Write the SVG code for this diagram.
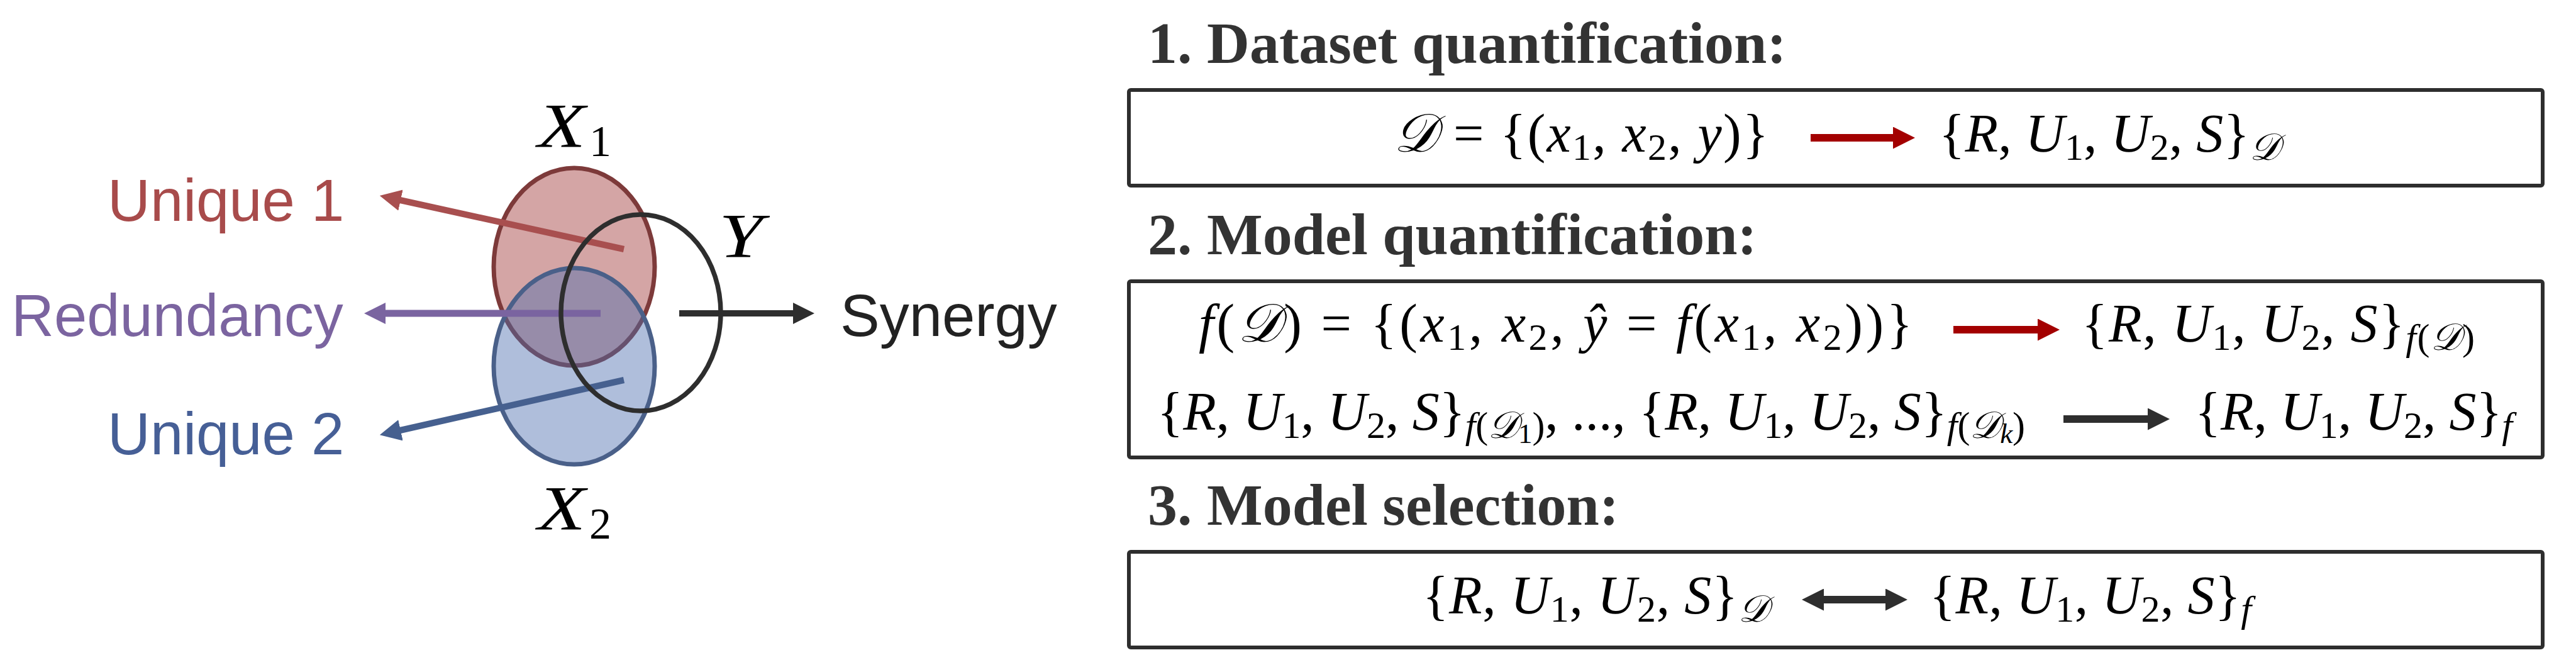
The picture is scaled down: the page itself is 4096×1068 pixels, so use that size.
<svg xmlns="http://www.w3.org/2000/svg" width="4096" height="1068" viewBox="0 0 4096 1068">
<defs>
<style>
.lbl { font-family: "Liberation Sans", Arial, sans-serif; font-size: 94px; }
.var { font-family: "Liberation Serif", "DejaVu Serif", serif; font-style: italic; font-size: 100px; fill: #000; }
.vsub { font-style: normal; font-size: 70px; }
.t { font-family: "Liberation Serif", "Times New Roman", serif; font-weight: bold; font-size: 94px; fill: #333; }
.m { font-family: "Liberation Serif", "DejaVu Serif", serif; font-size: 86px; fill: #000; }
.i { font-style: italic; }
.s { font-size: 60px; }
.ss { font-size: 45px; }
.box { fill: #fff; stroke: #2e2e2e; stroke-width: 6; }
.shaft { fill: none; stroke-linecap: butt; }
</style>
<marker id="hU1" viewBox="0 0 34 34" refX="1" refY="17" markerWidth="34" markerHeight="34" markerUnits="userSpaceOnUse" orient="auto"><path d="M0,0 L34,17 L0,34 Z" fill="#a84f4f"/></marker>
<marker id="hRd" viewBox="0 0 34 34" refX="1" refY="17" markerWidth="34" markerHeight="34" markerUnits="userSpaceOnUse" orient="auto"><path d="M0,0 L34,17 L0,34 Z" fill="#7a64a0"/></marker>
<marker id="hU2" viewBox="0 0 34 34" refX="1" refY="17" markerWidth="34" markerHeight="34" markerUnits="userSpaceOnUse" orient="auto"><path d="M0,0 L34,17 L0,34 Z" fill="#46608f"/></marker>
<marker id="hSy" viewBox="0 0 34 34" refX="1" refY="17" markerWidth="34" markerHeight="34" markerUnits="userSpaceOnUse" orient="auto"><path d="M0,0 L34,17 L0,34 Z" fill="#2e2e2e"/></marker>
<marker id="hCr" viewBox="0 0 35 35" refX="1" refY="17.5" markerWidth="35" markerHeight="35" markerUnits="userSpaceOnUse" orient="auto"><path d="M0,0 L35,17.5 L0,35 Z" fill="#a30000"/></marker>
<marker id="hBk" viewBox="0 0 35 35" refX="1" refY="17.5" markerWidth="35" markerHeight="35" markerUnits="userSpaceOnUse" orient="auto-start-reverse"><path d="M0,0 L35,17.5 L0,35 Z" fill="#2e2e2e"/></marker>
</defs>
<rect width="4096" height="1068" fill="#fff"/>

<g id="node-X1">
<ellipse cx="913" cy="424" rx="128" ry="157" fill="#a94b4b" fill-opacity="0.5" stroke="#7d3a3a" stroke-width="7"/>
<text class="var" x="855" y="233"><tspan textLength="76" lengthAdjust="spacingAndGlyphs">X</tspan><tspan class="vsub" dx="6" dy="15">1</tspan></text>
</g>
<g id="node-X2">
<ellipse cx="913" cy="582" rx="128" ry="156" fill="#4d6fb0" fill-opacity="0.45" stroke="#4a6089" stroke-width="7"/>
<text class="var" x="855" y="841"><tspan textLength="76" lengthAdjust="spacingAndGlyphs">X</tspan><tspan class="vsub" dx="6" dy="15">2</tspan></text>
</g>

<g id="step1">
<text class="t" x="1825" y="100">1. Dataset quantification:</text>
<rect class="box" x="1795" y="143" width="2248" height="152" rx="3"/>
<text class="m" x="2216" y="241" textLength="596" lengthAdjust="spacing"><tspan class="i">𝒟</tspan> = {(<tspan class="i">x</tspan><tspan class="s" dy="13">1</tspan><tspan dy="-13">, </tspan><tspan class="i">x</tspan><tspan class="s" dy="13">2</tspan><tspan dy="-13">, </tspan><tspan class="i">y</tspan>)}</text>
<text class="m" x="3083" y="241" textLength="542" lengthAdjust="spacing">{<tspan class="i">R</tspan>, <tspan class="i">U</tspan><tspan class="s" dy="13">1</tspan><tspan dy="-13">, </tspan><tspan class="i">U</tspan><tspan class="s" dy="13">2</tspan><tspan dy="-13">, </tspan><tspan class="i">S</tspan>}<tspan class="s i" dy="13">𝒟</tspan></text>
</g>

<g id="step2">
<text class="t" x="1825" y="404">2. Model quantification:</text>
<rect class="box" x="1795" y="447" width="2248" height="280" rx="3"/>
<text class="m" x="1906" y="543" textLength="1135" lengthAdjust="spacing"><tspan class="i">f</tspan>(<tspan class="i">𝒟</tspan>) = {(<tspan class="i">x</tspan><tspan class="s" dy="13">1</tspan><tspan dy="-13">, </tspan><tspan class="i">x</tspan><tspan class="s" dy="13">2</tspan><tspan dy="-13">, </tspan><tspan class="i">ŷ</tspan> = <tspan class="i">f</tspan>(<tspan class="i">x</tspan><tspan class="s" dy="13">1</tspan><tspan dy="-13">, </tspan><tspan class="i">x</tspan><tspan class="s" dy="13">2</tspan><tspan dy="-13">))}</tspan></text>
<text class="m" x="3310" y="543" textLength="625" lengthAdjust="spacing">{<tspan class="i">R</tspan>, <tspan class="i">U</tspan><tspan class="s" dy="13">1</tspan><tspan dy="-13">, </tspan><tspan class="i">U</tspan><tspan class="s" dy="13">2</tspan><tspan dy="-13">, </tspan><tspan class="i">S</tspan>}<tspan class="s i" dy="13">f</tspan><tspan class="s">(</tspan><tspan class="s i">𝒟</tspan><tspan class="s">)</tspan></text>
<text class="m" x="1840" y="683" textLength="1380" lengthAdjust="spacing">{<tspan class="i">R</tspan>, <tspan class="i">U</tspan><tspan class="s" dy="13">1</tspan><tspan dy="-13">, </tspan><tspan class="i">U</tspan><tspan class="s" dy="13">2</tspan><tspan dy="-13">, </tspan><tspan class="i">S</tspan>}<tspan class="s i" dy="13">f</tspan><tspan class="s">(</tspan><tspan class="s i">𝒟</tspan><tspan class="ss" dy="8">1</tspan><tspan class="s" dy="-8">)</tspan><tspan dy="-13">, ..., {</tspan><tspan class="i">R</tspan>, <tspan class="i">U</tspan><tspan class="s" dy="13">1</tspan><tspan dy="-13">, </tspan><tspan class="i">U</tspan><tspan class="s" dy="13">2</tspan><tspan dy="-13">, </tspan><tspan class="i">S</tspan>}<tspan class="s i" dy="13">f</tspan><tspan class="s">(</tspan><tspan class="s i">𝒟</tspan><tspan class="ss i" dy="8">k</tspan><tspan class="s" dy="-8">)</tspan></text>
<text class="m" x="3490" y="683" textLength="505" lengthAdjust="spacing">{<tspan class="i">R</tspan>, <tspan class="i">U</tspan><tspan class="s" dy="13">1</tspan><tspan dy="-13">, </tspan><tspan class="i">U</tspan><tspan class="s" dy="13">2</tspan><tspan dy="-13">, </tspan><tspan class="i">S</tspan>}<tspan class="s i" dy="13">f</tspan></text>
</g>

<g id="step3">
<text class="t" x="1825" y="834">3. Model selection:</text>
<rect class="box" x="1795" y="877" width="2248" height="152" rx="3"/>
<text class="m" x="2262" y="975" textLength="550" lengthAdjust="spacing">{<tspan class="i">R</tspan>, <tspan class="i">U</tspan><tspan class="s" dy="13">1</tspan><tspan dy="-13">, </tspan><tspan class="i">U</tspan><tspan class="s" dy="13">2</tspan><tspan dy="-13">, </tspan><tspan class="i">S</tspan>}<tspan class="s i" dy="13">𝒟</tspan></text>
<text class="m" x="3068" y="975" textLength="512" lengthAdjust="spacing">{<tspan class="i">R</tspan>, <tspan class="i">U</tspan><tspan class="s" dy="13">1</tspan><tspan dy="-13">, </tspan><tspan class="i">U</tspan><tspan class="s" dy="13">2</tspan><tspan dy="-13">, </tspan><tspan class="i">S</tspan>}<tspan class="s i" dy="13">f</tspan></text>
</g>

<g id="connectors">
<line class="shaft" x1="992" y1="396" x2="636" y2="318" stroke="#a84f4f" stroke-width="10" marker-end="url(#hU1)"/>
<line class="shaft" x1="955" y1="498" x2="612" y2="498" stroke="#7a64a0" stroke-width="11" marker-end="url(#hRd)"/>
<line class="shaft" x1="992" y1="604" x2="636" y2="684" stroke="#46608f" stroke-width="10" marker-end="url(#hU2)"/>
<line class="shaft" x1="1080" y1="498" x2="1262" y2="498" stroke="#2e2e2e" stroke-width="10" marker-end="url(#hSy)"/>
<line class="shaft" x1="2879" y1="219" x2="3011" y2="219" stroke="#a30000" stroke-width="12" marker-end="url(#hCr)"/>
<line class="shaft" x1="3106" y1="524" x2="3241" y2="524" stroke="#a30000" stroke-width="12" marker-end="url(#hCr)"/>
<line class="shaft" x1="3281" y1="666" x2="3416" y2="666" stroke="#2e2e2e" stroke-width="12" marker-end="url(#hBk)"/>
<line class="shaft" x1="2899" y1="953" x2="2999" y2="953" stroke="#2e2e2e" stroke-width="12" marker-start="url(#hBk)" marker-end="url(#hBk)"/>
</g>

<g id="node-Y">
<ellipse cx="1019" cy="497" rx="127" ry="156" fill="none" stroke="#2e2e2e" stroke-width="7.5"/>
<text class="var" x="1143" y="408" font-size="105"><tspan textLength="70" lengthAdjust="spacingAndGlyphs">Y</tspan></text>
</g>

<g id="label-unique1"><text class="lbl" x="171" y="351" fill="#a84b4b">Unique 1</text></g>
<g id="label-redundancy"><text class="lbl" x="18" y="534" fill="#7b64a0">Redundancy</text></g>
<g id="label-unique2"><text class="lbl" x="171" y="722" fill="#465f96">Unique 2</text></g>
<g id="label-synergy"><text class="lbl" x="1336" y="534" fill="#222">Synergy</text></g>
</svg>
